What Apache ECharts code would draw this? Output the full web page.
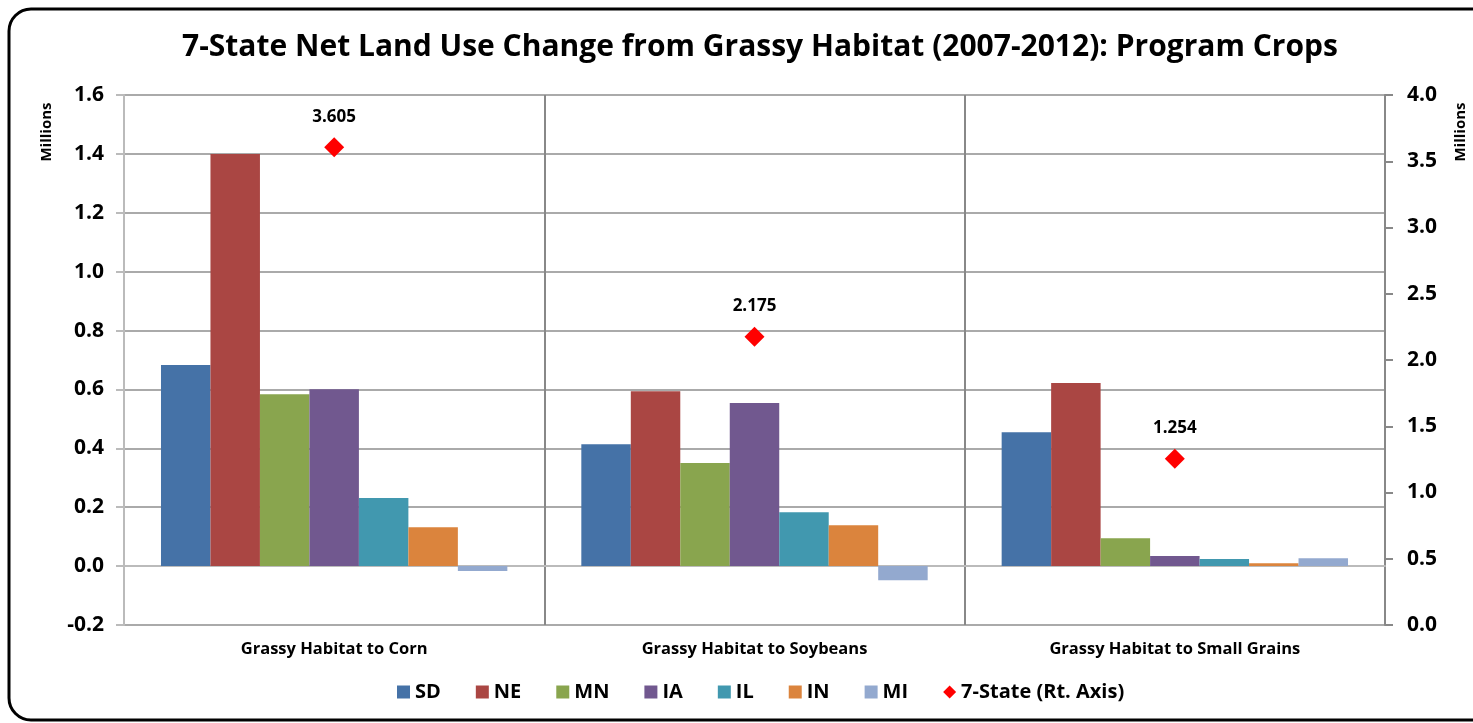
<!DOCTYPE html>
<html>
<head>
<meta charset="utf-8">
<script src="https://cdn.jsdelivr.net/npm/echarts@6/dist/echarts.min.js"></script>
<style>
  html, body { margin: 0; padding: 0; background: #fff; }
  #main { width: 1473px; height: 723px; }
</style>
</head>
<body>
<div id="main"></div>
<script>
const categories = ['Grassy Habitat to Corn', 'Grassy Habitat to Soybeans', 'Grassy Habitat to Small Grains']
const states = ['SD', 'NE', 'MN', 'IA', 'IL', 'IN', 'MI']
const sd = [0.683, 0.414, 0.455]
const ne = [1.400, 0.594, 0.622]
const mn = [0.584, 0.350, 0.095]
const ia = [0.601, 0.554, 0.034]
const il = [0.231, 0.183, 0.024]
const inn = [0.132, 0.139, 0.010]
const mi = [-0.017, -0.048, 0.027]
const sevenState = [3.605, 2.175, 1.254]
const colors = ['#4572A7', '#AA4643', '#89A54E', '#71588F', '#4198AF', '#DB843D', '#93A9CF']

const stateValues = [sd, ne, mn, ia, il, inn, mi]
const font = 'Open Sans'

const barSeries = states.map(function (name, i) {
  return {
    name: name,
    type: 'bar',
    yAxisIndex: 0,
    barGap: '0%',
    barCategoryGap: '17.6%',
    itemStyle: {color: colors[i]},
    data: stateValues[i]
  }
})

const chart = echarts.init(document.getElementById('main'))
const option = {
  animation: false,
  textStyle: {fontFamily: font},
  title: {
    text: '7-State Net Land Use Change from Grassy Habitat (2007-2012): Program Crops',
    left: 177,
    top: 27,
    textStyle: {fontFamily: font, fontSize: 30, fontWeight: 'bold', color: '#000'}
  },
  legend: {
    bottom: 16,
    left: 392,
    itemWidth: 13,
    itemHeight: 13,
    itemGap: 35,
    textStyle: {fontFamily: font, fontSize: 20, fontWeight: 'bold', color: '#000'},
    data: states.map(function (s) { return {name: s, icon: 'rect'} }).concat([{name: '7-State (Rt. Axis)', icon: 'diamond'}])
  },
  grid: {left: 124, right: 88, top: 95, bottom: 98, containLabel: false},
  xAxis: {
    type: 'category',
    data: categories,
    axisLine: {lineStyle: {color: '#bbb', width: 2}},
    axisTick: {show: false},
    axisLabel: {fontFamily: font, fontSize: 16.5, fontWeight: 'bold', color: '#000', margin: 16},
    splitLine: {show: true, lineStyle: {color: '#888', width: 2}}
  },
  yAxis: [
    {
      type: 'value',
      min: -0.2,
      max: 1.6,
      interval: 0.2,
      axisLine: {show: true, lineStyle: {color: '#bbb', width: 2}},
      axisTick: {show: true, length: 8, lineStyle: {color: '#bbb', width: 2}},
      axisLabel: {fontFamily: font, fontSize: 21, fontWeight: 'bold', color: '#000', margin: 20,
        formatter: function (v) { return v.toFixed(1) }},
      splitLine: {lineStyle: {color: '#aaa', width: 2}}
    },
    {
      type: 'value',
      min: 0,
      max: 4,
      interval: 0.5,
      position: 'right',
      axisLine: {show: true, lineStyle: {color: '#888', width: 2}},
      axisTick: {show: true, length: 8, lineStyle: {color: '#888', width: 2}},
      axisLabel: {fontFamily: font, fontSize: 21, fontWeight: 'bold', color: '#000', margin: 22,
        formatter: function (v) { return v.toFixed(1) }},
      splitLine: {show: false}
    }
  ],
  series: barSeries.concat([{
    name: '7-State (Rt. Axis)',
    type: 'scatter',
    yAxisIndex: 1,
    symbol: 'diamond',
    symbolSize: 20,
    itemStyle: {color: '#FF0000', opacity: 1},
    label: {
      show: true,
      position: 'top',
      distance: 12,
      fontFamily: font,
      fontSize: 17,
      fontWeight: 'bold',
      color: '#000',
      formatter: function (p) { return p.value.toFixed(3) }
    },
    z: 5,
    data: sevenState
  }]),
  graphic: [
    {
      type: 'rect',
      shape: {x: 9, y: 9, width: 1490, height: 711, r: 22},
      style: {fill: 'none', stroke: '#000', lineWidth: 3},
      z: 100
    },
    {
      type: 'text',
      x: 47,
      y: 132,
      rotation: Math.PI / 2,
      style: {text: 'Millions', fontFamily: font, fontSize: 15, fontWeight: 'bold', fill: '#000', align: 'center', verticalAlign: 'middle'}
    },
    {
      type: 'text',
      x: 1461,
      y: 132,
      rotation: Math.PI / 2,
      style: {text: 'Millions', fontFamily: font, fontSize: 15, fontWeight: 'bold', fill: '#000', align: 'center', verticalAlign: 'middle'}
    }
  ]
}
chart.setOption(option)
window.addEventListener('resize', function () {
  chart.resize()
})
</script>
</body>
</html>
